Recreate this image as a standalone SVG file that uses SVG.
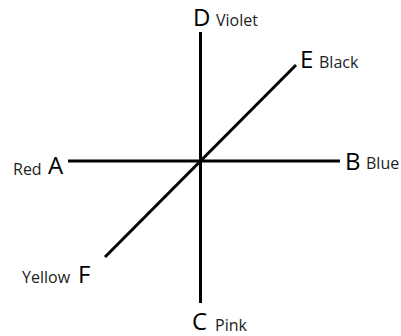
<svg xmlns="http://www.w3.org/2000/svg" width="401" height="336" viewBox="0 0 401 336">
<style>
.ln{stroke:#000;stroke-width:3;fill:none;stroke-linecap:butt}
.big{font-family:"Open Sans","Liberation Sans",sans-serif;font-size:24px;fill:#000}
.lab{font-family:"Open Sans","Liberation Sans",sans-serif;font-size:16px;fill:#222}
</style>
<rect width="401" height="336" fill="#fff"/>
<g id="connectors">
<line class="ln" x1="200.5" y1="32" x2="200.5" y2="303"/>
<line class="ln" x1="68" y1="161" x2="340" y2="161"/>
<line class="ln" x1="105" y1="257" x2="296" y2="65"/>
</g>
<g id="nodeD"><text class="big" x="193" y="26">D</text><text class="lab" x="216" y="26">Violet</text></g>
<g id="nodeE"><text class="big" x="300" y="68">E</text><text class="lab" x="319" y="68">Black</text></g>
<g id="nodeA"><text class="big" x="48" y="174">A</text><text class="lab" x="13" y="175">Red</text></g>
<g id="nodeB"><text class="big" x="345" y="170">B</text><text class="lab" x="366" y="169">Blue</text></g>
<g id="nodeF"><text class="big" x="78" y="283">F</text><text class="lab" x="22" y="283">Yellow</text></g>
<g id="nodeC"><text class="big" x="192" y="330">C</text><text class="lab" x="215" y="331">Pink</text></g>
</svg>
